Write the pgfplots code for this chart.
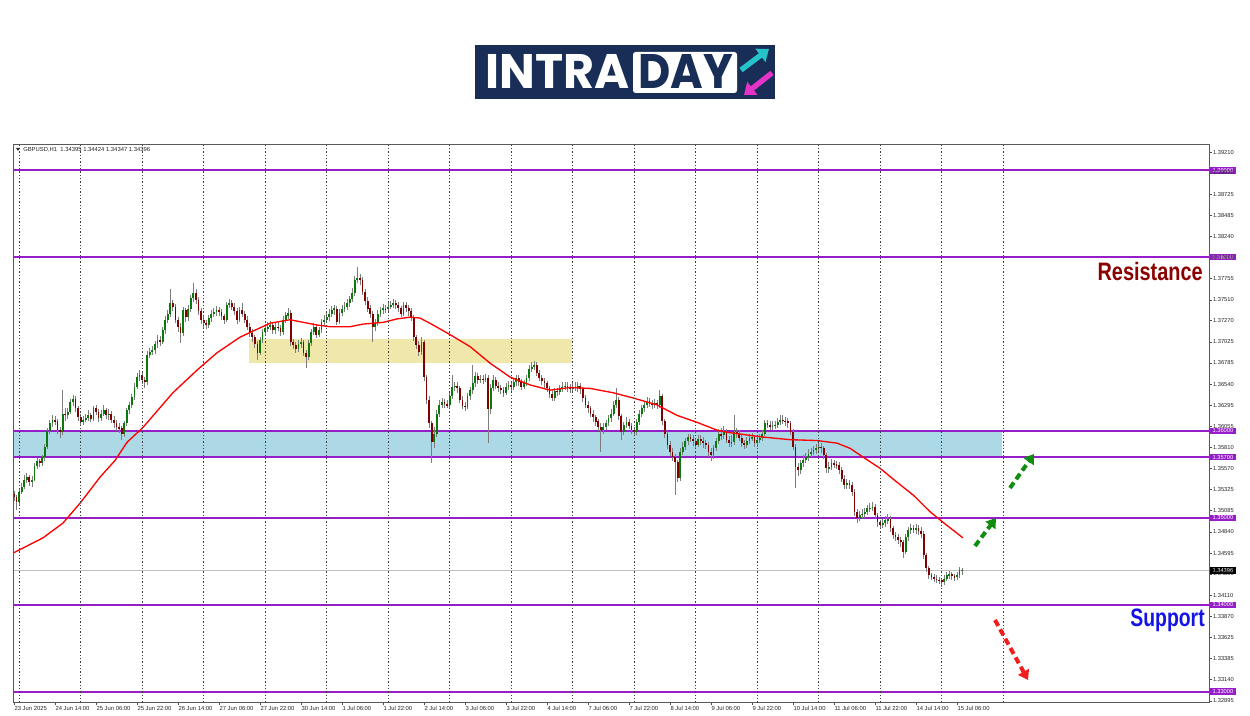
\documentclass[border=0pt]{standalone}
\usepackage{fontspec}
\setmainfont{Liberation Sans}
\newfontfamily\logofont{Poppins}
\usepackage{graphicx}
\usepackage{pgfplots}
\usepackage{pgfplotstable}
\pgfplotsset{compat=1.18}
\usetikzlibrary{arrows.meta}

\definecolor{navy}{RGB}{25,46,87}
\definecolor{logocyan}{RGB}{38,196,200}
\definecolor{logomag}{RGB}{228,52,200}
\definecolor{bull}{RGB}{10,120,10}
\definecolor{bear}{RGB}{128,0,0}
\definecolor{wick}{RGB}{125,125,125}
\definecolor{lvl}{RGB}{150,30,200}
\definecolor{zoneblue}{RGB}{173,216,230}
\definecolor{zoneyel}{RGB}{240,232,170}
\definecolor{resred}{RGB}{139,0,0}
\definecolor{supblue}{RGB}{20,20,230}
\definecolor{arrgreen}{RGB}{16,140,16}
\definecolor{arrred}{RGB}{240,30,30}

% GBPUSD H1 candles: bar index, open, high, low, close
\pgfplotstableread{
i o h l c
0 1.3528 1.3531 1.3520 1.3524
1 1.3524 1.3527 1.3509 1.3518
2 1.3518 1.3534 1.3515 1.3530
3 1.3530 1.3540 1.3527 1.3536
4 1.3536 1.3549 1.3533 1.3544
5 1.3544 1.3552 1.3540 1.3547
6 1.3547 1.3550 1.3537 1.3541
7 1.3541 1.3548 1.3536 1.3544
8 1.3544 1.3563 1.3542 1.3560
9 1.3560 1.3569 1.3556 1.3565
10 1.3565 1.3568 1.3558 1.3563
11 1.3563 1.3573 1.3560 1.3570
12 1.3570 1.3585 1.3566 1.3582
13 1.3582 1.3604 1.3579 1.3600
14 1.3600 1.3613 1.3597 1.3609
15 1.3609 1.3618 1.3605 1.3613
16 1.3613 1.3617 1.3607 1.3611
17 1.3611 1.3614 1.3597 1.3601
18 1.3601 1.3605 1.3592 1.3599
19 1.3599 1.3647 1.3596 1.3620
20 1.3620 1.3626 1.3612 1.3618
21 1.3618 1.3627 1.3614 1.3622
22 1.3622 1.3637 1.3619 1.3633
23 1.3633 1.3641 1.3629 1.3637
24 1.3637 1.3640 1.3622 1.3626
25 1.3626 1.3629 1.3612 1.3616
26 1.3616 1.3620 1.3606 1.3610
27 1.3610 1.3617 1.3607 1.3613
28 1.3613 1.3619 1.3610 1.3615
29 1.3615 1.3624 1.3612 1.3618
30 1.3618 1.3621 1.3610 1.3614
31 1.3614 1.3629 1.3611 1.3626
32 1.3626 1.3630 1.3618 1.3622
33 1.3622 1.3625 1.3611 1.3615
34 1.3615 1.3624 1.3612 1.3620
35 1.3620 1.3630 1.3617 1.3624
36 1.3624 1.3627 1.3614 1.3618
37 1.3618 1.3625 1.3613 1.3620
38 1.3620 1.3623 1.3609 1.3613
39 1.3613 1.3617 1.3604 1.3609
40 1.3609 1.3613 1.3600 1.3605
41 1.3605 1.3609 1.3598 1.3603
42 1.3603 1.3606 1.3590 1.3597
43 1.3597 1.3612 1.3593 1.3609
44 1.3609 1.3627 1.3606 1.3624
45 1.3624 1.3634 1.3620 1.3630
46 1.3630 1.3643 1.3626 1.3639
47 1.3639 1.3655 1.3636 1.3651
48 1.3651 1.3667 1.3648 1.3662
49 1.3662 1.3670 1.3658 1.3664
50 1.3664 1.3668 1.3654 1.3659
51 1.3659 1.3662 1.3650 1.3656
52 1.3656 1.3692 1.3653 1.3688
53 1.3688 1.3696 1.3684 1.3691
54 1.3691 1.3698 1.3687 1.3693
55 1.3693 1.3704 1.3689 1.3700
56 1.3700 1.3710 1.3696 1.3705
57 1.3705 1.3709 1.3698 1.3703
58 1.3703 1.3720 1.3700 1.3716
59 1.3716 1.3732 1.3712 1.3728
60 1.3728 1.3739 1.3724 1.3735
61 1.3735 1.3764 1.3731 1.3747
62 1.3747 1.3751 1.3738 1.3743
63 1.3743 1.3746 1.3724 1.3728
64 1.3728 1.3731 1.3714 1.3720
65 1.3720 1.3724 1.3701 1.3713
66 1.3713 1.3743 1.3709 1.3739
67 1.3739 1.3742 1.3726 1.3731
68 1.3731 1.3745 1.3727 1.3740
69 1.3740 1.3757 1.3737 1.3753
70 1.3753 1.3770 1.3749 1.3759
71 1.3759 1.3763 1.3746 1.3751
72 1.3751 1.3754 1.3734 1.3738
73 1.3738 1.3741 1.3723 1.3728
74 1.3728 1.3732 1.3719 1.3724
75 1.3724 1.3728 1.3717 1.3722
76 1.3722 1.3734 1.3719 1.3730
77 1.3730 1.3739 1.3726 1.3735
78 1.3735 1.3742 1.3731 1.3737
79 1.3737 1.3744 1.3733 1.3739
80 1.3739 1.3743 1.3732 1.3737
81 1.3737 1.3740 1.3728 1.3732
82 1.3732 1.3735 1.3723 1.3728
83 1.3728 1.3749 1.3725 1.3745
84 1.3745 1.3752 1.3741 1.3747
85 1.3747 1.3751 1.3739 1.3743
86 1.3743 1.3747 1.3734 1.3738
87 1.3738 1.3741 1.3723 1.3728
88 1.3728 1.3743 1.3725 1.3739
89 1.3739 1.3747 1.3731 1.3735
90 1.3735 1.3738 1.3724 1.3728
91 1.3728 1.3732 1.3716 1.3720
92 1.3720 1.3724 1.3708 1.3713
93 1.3713 1.3717 1.3702 1.3708
94 1.3708 1.3711 1.3695 1.3700
95 1.3700 1.3703 1.3682 1.3690
96 1.3690 1.3708 1.3687 1.3705
97 1.3705 1.3718 1.3701 1.3714
98 1.3714 1.3723 1.3710 1.3718
99 1.3718 1.3725 1.3714 1.3720
100 1.3720 1.3727 1.3716 1.3722
101 1.3722 1.3726 1.3712 1.3716
102 1.3716 1.3724 1.3712 1.3720
103 1.3720 1.3725 1.3715 1.3719
104 1.3719 1.3722 1.3709 1.3714
105 1.3714 1.3732 1.3711 1.3728
106 1.3728 1.3737 1.3724 1.3733
107 1.3733 1.3742 1.3729 1.3736
108 1.3736 1.3739 1.3698 1.3702
109 1.3702 1.3706 1.3694 1.3699
110 1.3699 1.3703 1.3690 1.3695
111 1.3695 1.3705 1.3691 1.3700
112 1.3700 1.3707 1.3696 1.3702
113 1.3702 1.3705 1.3686 1.3690
114 1.3690 1.3693 1.3673 1.3685
115 1.3685 1.3705 1.3682 1.3701
116 1.3701 1.3718 1.3698 1.3714
117 1.3714 1.3724 1.3710 1.3720
118 1.3720 1.3723 1.3707 1.3711
119 1.3711 1.3720 1.3708 1.3716
120 1.3716 1.3729 1.3713 1.3725
121 1.3725 1.3733 1.3721 1.3728
122 1.3728 1.3736 1.3724 1.3731
123 1.3731 1.3740 1.3727 1.3735
124 1.3735 1.3744 1.3731 1.3739
125 1.3739 1.3745 1.3734 1.3741
126 1.3741 1.3744 1.3722 1.3726
127 1.3726 1.3740 1.3723 1.3736
128 1.3736 1.3745 1.3732 1.3741
129 1.3741 1.3748 1.3737 1.3743
130 1.3743 1.3752 1.3739 1.3747
131 1.3747 1.3756 1.3743 1.3752
132 1.3752 1.3764 1.3748 1.3759
133 1.3759 1.3779 1.3756 1.3774
134 1.3774 1.3789 1.3770 1.3776
135 1.3776 1.3781 1.3768 1.3774
136 1.3774 1.3777 1.3756 1.3760
137 1.3760 1.3763 1.3745 1.3750
138 1.3750 1.3754 1.3737 1.3741
139 1.3741 1.3745 1.3730 1.3735
140 1.3735 1.3738 1.3703 1.3720
141 1.3720 1.3729 1.3715 1.3724
142 1.3724 1.3739 1.3721 1.3735
143 1.3735 1.3743 1.3731 1.3739
144 1.3739 1.3746 1.3735 1.3741
145 1.3741 1.3745 1.3736 1.3740
146 1.3740 1.3748 1.3736 1.3743
147 1.3743 1.3750 1.3740 1.3745
148 1.3745 1.3752 1.3741 1.3747
149 1.3747 1.3751 1.3741 1.3745
150 1.3745 1.3749 1.3737 1.3741
151 1.3741 1.3744 1.3731 1.3735
152 1.3735 1.3749 1.3732 1.3745
153 1.3745 1.3748 1.3737 1.3741
154 1.3741 1.3745 1.3733 1.3738
155 1.3738 1.3742 1.3727 1.3731
156 1.3731 1.3734 1.3704 1.3708
157 1.3708 1.3711 1.3694 1.3699
158 1.3699 1.3703 1.3686 1.3691
159 1.3691 1.3708 1.3688 1.3702
160 1.3702 1.3705 1.3658 1.3662
161 1.3662 1.3665 1.3631 1.3636
162 1.3636 1.3640 1.3604 1.3609
163 1.3609 1.3612 1.3563 1.3587
164 1.3587 1.3605 1.3580 1.3596
165 1.3596 1.3624 1.3593 1.3620
166 1.3620 1.3636 1.3616 1.3630
167 1.3630 1.3638 1.3626 1.3633
168 1.3633 1.3637 1.3627 1.3631
169 1.3631 1.3636 1.3626 1.3630
170 1.3630 1.3644 1.3627 1.3640
171 1.3640 1.3664 1.3637 1.3651
172 1.3651 1.3657 1.3646 1.3652
173 1.3652 1.3656 1.3644 1.3649
174 1.3649 1.3652 1.3632 1.3636
175 1.3636 1.3640 1.3625 1.3629
176 1.3629 1.3633 1.3623 1.3628
177 1.3628 1.3644 1.3625 1.3640
178 1.3640 1.3651 1.3636 1.3647
179 1.3647 1.3676 1.3643 1.3655
180 1.3655 1.3668 1.3651 1.3663
181 1.3663 1.3667 1.3654 1.3659
182 1.3659 1.3665 1.3655 1.3660
183 1.3660 1.3664 1.3654 1.3659
184 1.3659 1.3666 1.3656 1.3661
185 1.3661 1.3664 1.3586 1.3625
186 1.3625 1.3654 1.3620 1.3650
187 1.3650 1.3664 1.3646 1.3659
188 1.3659 1.3662 1.3648 1.3652
189 1.3652 1.3656 1.3645 1.3649
190 1.3649 1.3653 1.3642 1.3647
191 1.3647 1.3651 1.3639 1.3644
192 1.3644 1.3655 1.3641 1.3651
193 1.3651 1.3658 1.3647 1.3653
194 1.3653 1.3657 1.3646 1.3651
195 1.3651 1.3660 1.3647 1.3656
196 1.3656 1.3665 1.3652 1.3661
197 1.3661 1.3664 1.3652 1.3657
198 1.3657 1.3660 1.3647 1.3651
199 1.3651 1.3659 1.3648 1.3655
200 1.3655 1.3665 1.3652 1.3661
201 1.3661 1.3676 1.3658 1.3672
202 1.3672 1.3679 1.3668 1.3674
203 1.3674 1.3681 1.3670 1.3676
204 1.3676 1.3679 1.3663 1.3667
205 1.3667 1.3670 1.3657 1.3661
206 1.3661 1.3664 1.3653 1.3658
207 1.3658 1.3661 1.3650 1.3655
208 1.3655 1.3658 1.3645 1.3649
209 1.3649 1.3652 1.3638 1.3642
210 1.3642 1.3646 1.3634 1.3638
211 1.3638 1.3650 1.3635 1.3646
212 1.3646 1.3650 1.3640 1.3645
213 1.3645 1.3653 1.3641 1.3649
214 1.3649 1.3656 1.3645 1.3651
215 1.3651 1.3657 1.3647 1.3652
216 1.3652 1.3656 1.3645 1.3650
217 1.3650 1.3654 1.3644 1.3648
218 1.3648 1.3655 1.3644 1.3651
219 1.3651 1.3656 1.3646 1.3650
220 1.3650 1.3656 1.3645 1.3652
221 1.3652 1.3655 1.3643 1.3648
222 1.3648 1.3651 1.3634 1.3638
223 1.3638 1.3641 1.3626 1.3630
224 1.3630 1.3634 1.3621 1.3626
225 1.3626 1.3629 1.3616 1.3620
226 1.3620 1.3624 1.3611 1.3616
227 1.3616 1.3619 1.3606 1.3611
228 1.3611 1.3614 1.3600 1.3605
229 1.3605 1.3609 1.3576 1.3601
230 1.3601 1.3609 1.3597 1.3605
231 1.3605 1.3613 1.3601 1.3609
232 1.3609 1.3619 1.3606 1.3615
233 1.3615 1.3625 1.3611 1.3620
234 1.3620 1.3634 1.3617 1.3630
235 1.3630 1.3649 1.3626 1.3636
236 1.3636 1.3639 1.3613 1.3617
237 1.3617 1.3620 1.3590 1.3599
238 1.3599 1.3611 1.3595 1.3607
239 1.3607 1.3616 1.3603 1.3611
240 1.3611 1.3614 1.3602 1.3606
241 1.3606 1.3609 1.3597 1.3601
242 1.3601 1.3605 1.3594 1.3599
243 1.3599 1.3614 1.3596 1.3610
244 1.3610 1.3624 1.3607 1.3620
245 1.3620 1.3630 1.3616 1.3626
246 1.3626 1.3635 1.3622 1.3630
247 1.3630 1.3639 1.3626 1.3634
248 1.3634 1.3638 1.3628 1.3632
249 1.3632 1.3636 1.3625 1.3630
250 1.3630 1.3637 1.3626 1.3632
251 1.3632 1.3636 1.3625 1.3630
252 1.3630 1.3647 1.3627 1.3640
253 1.3640 1.3643 1.3607 1.3611
254 1.3611 1.3614 1.3592 1.3597
255 1.3597 1.3600 1.3579 1.3584
256 1.3584 1.3588 1.3571 1.3576
257 1.3576 1.3580 1.3565 1.3570
258 1.3570 1.3574 1.3526 1.3564
259 1.3564 1.3567 1.3541 1.3546
260 1.3546 1.3580 1.3543 1.3576
261 1.3576 1.3587 1.3572 1.3582
262 1.3582 1.3592 1.3578 1.3588
263 1.3588 1.3597 1.3584 1.3593
264 1.3593 1.3597 1.3587 1.3591
265 1.3591 1.3595 1.3583 1.3588
266 1.3588 1.3592 1.3579 1.3584
267 1.3584 1.3595 1.3581 1.3591
268 1.3591 1.3595 1.3584 1.3589
269 1.3589 1.3593 1.3581 1.3586
270 1.3586 1.3590 1.3579 1.3584
271 1.3584 1.3587 1.3570 1.3576
272 1.3576 1.3580 1.3566 1.3572
273 1.3572 1.3584 1.3568 1.3580
274 1.3580 1.3592 1.3577 1.3588
275 1.3588 1.3602 1.3585 1.3597
276 1.3597 1.3603 1.3590 1.3595
277 1.3595 1.3606 1.3591 1.3599
278 1.3599 1.3602 1.3586 1.3590
279 1.3590 1.3594 1.3581 1.3586
280 1.3586 1.3596 1.3582 1.3587
281 1.3587 1.3618 1.3584 1.3599
282 1.3599 1.3604 1.3592 1.3597
283 1.3597 1.3601 1.3588 1.3592
284 1.3592 1.3596 1.3582 1.3586
285 1.3586 1.3590 1.3579 1.3584
286 1.3584 1.3593 1.3580 1.3589
287 1.3589 1.3597 1.3585 1.3592
288 1.3592 1.3598 1.3588 1.3593
289 1.3593 1.3596 1.3582 1.3586
290 1.3586 1.3594 1.3582 1.3590
291 1.3590 1.3597 1.3586 1.3592
292 1.3592 1.3601 1.3588 1.3597
293 1.3597 1.3613 1.3594 1.3609
294 1.3609 1.3613 1.3603 1.3607
295 1.3607 1.3611 1.3601 1.3605
296 1.3605 1.3611 1.3601 1.3606
297 1.3606 1.3612 1.3602 1.3607
298 1.3607 1.3615 1.3603 1.3611
299 1.3611 1.3618 1.3607 1.3613
300 1.3613 1.3618 1.3608 1.3612
301 1.3612 1.3616 1.3606 1.3611
302 1.3611 1.3615 1.3604 1.3609
303 1.3609 1.3612 1.3595 1.3599
304 1.3599 1.3602 1.3578 1.3582
305 1.3582 1.3585 1.3534 1.3559
306 1.3559 1.3563 1.3548 1.3555
307 1.3555 1.3567 1.3551 1.3563
308 1.3563 1.3572 1.3559 1.3567
309 1.3567 1.3575 1.3563 1.3570
310 1.3570 1.3579 1.3566 1.3574
311 1.3574 1.3581 1.3570 1.3576
312 1.3576 1.3583 1.3572 1.3578
313 1.3578 1.3585 1.3574 1.3580
314 1.3580 1.3587 1.3576 1.3582
315 1.3582 1.3586 1.3575 1.3580
316 1.3580 1.3583 1.3568 1.3572
317 1.3572 1.3575 1.3552 1.3557
318 1.3557 1.3564 1.3552 1.3559
319 1.3559 1.3568 1.3555 1.3563
320 1.3563 1.3567 1.3557 1.3562
321 1.3562 1.3566 1.3556 1.3561
322 1.3561 1.3564 1.3550 1.3555
323 1.3555 1.3558 1.3541 1.3545
324 1.3545 1.3549 1.3533 1.3538
325 1.3538 1.3545 1.3533 1.3540
326 1.3540 1.3544 1.3533 1.3538
327 1.3538 1.3541 1.3525 1.3530
328 1.3530 1.3533 1.3502 1.3507
329 1.3507 1.3510 1.3494 1.3500
330 1.3500 1.3508 1.3496 1.3503
331 1.3503 1.3510 1.3499 1.3505
332 1.3505 1.3512 1.3500 1.3507
333 1.3507 1.3515 1.3503 1.3511
334 1.3511 1.3517 1.3507 1.3512
335 1.3512 1.3518 1.3508 1.3513
336 1.3513 1.3516 1.3499 1.3503
337 1.3503 1.3506 1.3490 1.3495
338 1.3495 1.3498 1.3487 1.3492
339 1.3492 1.3499 1.3488 1.3494
340 1.3494 1.3502 1.3490 1.3497
341 1.3497 1.3505 1.3493 1.3499
342 1.3499 1.3502 1.3484 1.3488
343 1.3488 1.3491 1.3476 1.3480
344 1.3480 1.3484 1.3473 1.3478
345 1.3478 1.3481 1.3470 1.3475
346 1.3475 1.3478 1.3467 1.3472
347 1.3472 1.3475 1.3454 1.3461
348 1.3461 1.3482 1.3458 1.3478
349 1.3478 1.3490 1.3474 1.3486
350 1.3486 1.3493 1.3482 1.3488
351 1.3488 1.3492 1.3483 1.3487
352 1.3487 1.3493 1.3482 1.3488
353 1.3488 1.3492 1.3480 1.3485
354 1.3485 1.3489 1.3477 1.3482
355 1.3482 1.3485 1.3453 1.3457
356 1.3457 1.3460 1.3438 1.3442
357 1.3442 1.3445 1.3430 1.3434
358 1.3434 1.3437 1.3428 1.3432
359 1.3432 1.3435 1.3426 1.3430
360 1.3430 1.3434 1.3425 1.3429
361 1.3429 1.3432 1.3424 1.3428
362 1.3428 1.3431 1.3420 1.3426
363 1.3426 1.3434 1.3423 1.3430
364 1.3430 1.3438 1.3427 1.3434
365 1.3434 1.3439 1.3430 1.3435
366 1.3435 1.3438 1.3429 1.3433
367 1.3433 1.3436 1.3428 1.3432
368 1.3432 1.3438 1.3429 1.3434
369 1.3434 1.3443 1.3431 1.34395
370 1.34395 1.34424 1.34347 1.34396
}\candles

\tikzset{pricetag/.style={text=white, anchor=west, inner xsep=0.8pt, inner ysep=0.5pt,
  minimum width=20pt, minimum height=4.8pt, font=\fontsize{4.3}{5}\selectfont}}
\pgfplotsset{levelline/.style={lvl, line width=1.4pt, forget plot}}

\begin{document}
\begin{tikzpicture}[x=0.75pt,y=0.75pt]
\path[use as bounding box, fill=white] (0,0) rectangle (1250,716);

% logo
\fill[navy] (475,617) rectangle (775,671);
\node[anchor=south west, inner sep=0, text=white] at (485,627)
  {\resizebox{108pt}{25.5pt}{\logofont\bfseries INTRA}};
\fill[white, rounded corners=2pt] (633,623) rectangle (737,664);
\node[anchor=south west, inner sep=0, text=navy] at (638,627)
  {\resizebox{71pt}{25.5pt}{\logofont\bfseries DAY}};
\draw[logocyan, line width=4pt, -{Triangle[length=8pt,width=12pt]}] (741,646) -- (769,667);
\draw[logomag, line width=4pt, -{Triangle[length=8pt,width=12pt]}] (772,643) -- (744,621);

\begin{axis}[
  at={(10.125pt,9.975pt)}, anchor=south west,
  scale only axis, width=896.85pt, height=418.5pt,
  xmin=-0.2, xmax=466.45, ymin=1.32873, ymax=1.39295,
  axis on top, clip mode=individual,
  axis line style={black!65, line width=0.6pt},
  tick align=outside, major tick length=2pt,
  tick style={black!70, line width=0.4pt},
  xtick pos=bottom, ytick pos=right, yticklabel pos=right,
  xtick={0,16,...,368},
  xticklabels={23 Jun 2025,24 Jun 14:00,25 Jun 06:00,25 Jun 22:00,26 Jun 14:00,27 Jun 06:00,27 Jun 22:00,30 Jun 14:00,1 Jul 06:00,1 Jul 22:00,2 Jul 14:00,3 Jul 06:00,3 Jul 22:00,4 Jul 14:00,7 Jul 06:00,7 Jul 22:00,8 Jul 14:00,9 Jul 06:00,9 Jul 22:00,10 Jul 14:00,11 Jul 06:00,11 Jul 22:00,14 Jul 14:00,15 Jul 06:00},
  xticklabel style={anchor=north west, inner sep=0.6pt, xshift=-0.4pt, font=\fontsize{4.4}{5}\selectfont, text=black!85},
  ytick={1.39210,1.38970,1.38725,1.38485,1.38240,1.37995,1.37755,1.37510,1.37270,1.37025,1.36785,1.36540,1.36295,1.36055,1.35810,1.35570,1.35325,1.35085,1.34840,1.34595,1.34355,1.34110,1.33870,1.33625,1.33385,1.33140,1.32895},
  yticklabels={1.39210,1.38970,1.38725,1.38485,1.38240,1.37995,1.37755,1.37510,1.37270,1.37025,1.36785,1.36540,1.36295,1.36055,1.35810,1.35570,1.35325,1.35085,1.34840,1.34595,1.34355,1.34110,1.33870,1.33625,1.33385,1.33140,1.32895},
  yticklabel style={anchor=west, inner sep=0.6pt, font=\fontsize{4.3}{5}\selectfont, text=black!85},
  /pgf/number format/assume math mode=true,
  extra x ticks={2,26,...,386},
  extra x tick labels={},
  extra x tick style={grid=major, major tick length=0pt},
  major grid style={black!75, line width=0.5pt, dash pattern=on 1pt off 1.5pt},
]

% zones
\addplot[fill=zoneblue, draw=none, forget plot] coordinates {(-0.2,1.3570) (385.6,1.3570) (385.6,1.3600) (-0.2,1.3600)} -- cycle;
\addplot[fill=zoneyel, draw=none, forget plot] coordinates {(91.8,1.36782) (217.9,1.36782) (217.9,1.37059) (91.8,1.37059)} -- cycle;

% current price line
\addplot[black!25, line width=0.5pt, forget plot] coordinates {(-0.2,1.34396) (466.45,1.34396)};

% level lines
\addplot[levelline] coordinates {(-0.2,1.39) (466.45,1.39)};
\addplot[levelline] coordinates {(-0.2,1.38) (466.45,1.38)};
\addplot[levelline] coordinates {(-0.2,1.36) (466.45,1.36)};
\addplot[levelline] coordinates {(-0.2,1.357) (466.45,1.357)};
\addplot[levelline] coordinates {(-0.2,1.35) (466.45,1.35)};
\addplot[levelline] coordinates {(-0.2,1.34) (466.45,1.34)};
\addplot[levelline] coordinates {(-0.2,1.33) (466.45,1.33)};

% wicks
\addplot[draw=none, mark=none, forget plot,
  error bars/.cd, y dir=both, y explicit, error mark=none,
  error bar style={draw=wick, solid, line width=0.65pt}]
  table[x=i, y expr={(\thisrow{h}+\thisrow{l})/2}, y error expr={(\thisrow{h}-\thisrow{l})/2}] {\candles};
% bull bodies
\addplot[draw=none, mark=none, forget plot,
  restrict expr to domain={\thisrow{c}-\thisrow{o}}{0:1},
  error bars/.cd, y dir=both, y explicit, error mark=none,
  error bar style={draw=bull, solid, line width=1.35pt}]
  table[x=i, y expr={(\thisrow{o}+\thisrow{c})/2}, y error expr={max(abs(\thisrow{c}-\thisrow{o})/2,0.00003)}] {\candles};
% bear bodies
\addplot[draw=none, mark=none, forget plot,
  restrict expr to domain={\thisrow{c}-\thisrow{o}}{-1:-0.000001},
  error bars/.cd, y dir=both, y explicit, error mark=none,
  error bar style={draw=bear, solid, line width=1.35pt}]
  table[x=i, y expr={(\thisrow{o}+\thisrow{c})/2}, y error expr={max(abs(\thisrow{c}-\thisrow{o})/2,0.00003)}] {\candles};

% moving average
\addplot[red, line width=1pt, forget plot] coordinates {
(0,1.3460) (11.3,1.3477) (19.1,1.3494) (25.8,1.3517) (33.6,1.3547) (39.4,1.3566)
(44.1,1.3587) (50.3,1.3604) (62,1.3644) (71.4,1.3670) (79.2,1.3690) (88.2,1.3708)
(93.3,1.3715) (99.9,1.3724) (107.7,1.3728) (118.2,1.3722) (123.3,1.3720) (131.1,1.3720)
(136.2,1.3723) (144,1.3725) (149.5,1.3729) (154.5,1.3731) (158.4,1.3730) (162.3,1.3724)
(170.1,1.3711) (178,1.3697) (185.8,1.3678) (193.6,1.3662) (201.4,1.3653) (209.2,1.3647)
(217,1.3650) (224.8,1.3649) (233.8,1.3644) (241.6,1.3638) (250.9,1.3630) (258.7,1.3618)
(266.5,1.3610) (274.3,1.3601) (279.4,1.3598) (292.3,1.3593) (302.8,1.3590) (313.4,1.3589)
(321.2,1.3586) (326.3,1.3580) (331.3,1.3570) (338,1.3557) (344.6,1.3541) (351,1.3526)
(357.5,1.3507) (362.5,1.3495) (370.3,1.3477)};

% price tags on the right
\node[pricetag, fill=lvl] at (axis cs:466.45,1.39) {1.39000};
\node[pricetag, fill=lvl] at (axis cs:466.45,1.38) {1.38000};
\node[pricetag, fill=lvl] at (axis cs:466.45,1.36) {1.36000};
\node[pricetag, fill=lvl] at (axis cs:466.45,1.357) {1.35700};
\node[pricetag, fill=lvl] at (axis cs:466.45,1.35) {1.35000};
\node[pricetag, fill=lvl] at (axis cs:466.45,1.34) {1.34000};
\node[pricetag, fill=lvl] at (axis cs:466.45,1.33) {1.33000};
\node[pricetag, fill=black] at (axis cs:466.45,1.34396) {1.34396};
\end{axis}

% chart caption
\fill[black!80] (16,568) -- (20,568) -- (18,565) -- cycle;
\node[anchor=west, inner sep=0, font=\fontsize{4.4}{5}\selectfont, text=black!85] at (23,566.5)
  {GBPUSD,H1\ \ 1.34395 1.34424 1.34347 1.34396};

% annotations
\node[anchor=east, inner sep=0, text=resred] at (1203,444)
  {\scalebox{0.79}[1]{\fontsize{18.9}{20}\selectfont\bfseries Resistance}};
\node[anchor=east, inner sep=0, text=supblue] at (1205,96)
  {\scalebox{0.77}[1]{\fontsize{18.9}{20}\selectfont\bfseries Support}};

\draw[arrgreen, line width=3pt, dash pattern=on 5pt off 3pt, -{Triangle[length=7pt,width=9pt]}] (975,170) -- (996,198);
\draw[arrgreen, line width=3pt, dash pattern=on 5pt off 3pt, -{Triangle[length=7pt,width=9pt]}] (1010,228) -- (1034,262);
\draw[arrred, line width=3pt, dash pattern=on 5pt off 3pt, -{Triangle[length=7pt,width=9pt]}] (995,96) -- (1028,36);
\end{tikzpicture}
\end{document}
